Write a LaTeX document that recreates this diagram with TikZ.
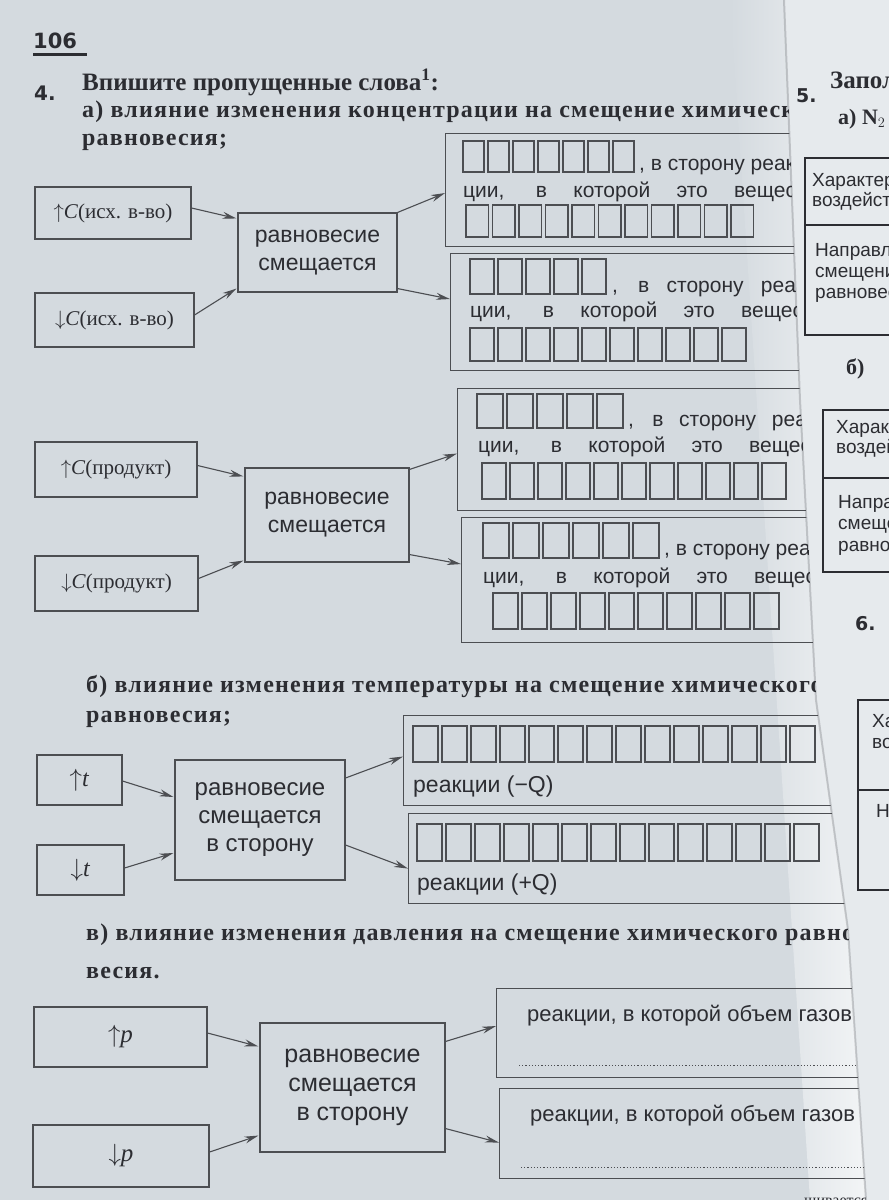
\documentclass[tikz,border=0pt]{standalone}
\usepackage{fontspec}
\setmainfont{Liberation Serif}
\newfontfamily\boxfont{Liberation Sans}
\newfontfamily\numfont{DejaVu Sans}
\usetikzlibrary{arrows.meta, positioning, calc}
\definecolor{paper}{RGB}{212,218,223}
\definecolor{paperlight}{RGB}{230,234,237}
\definecolor{ink}{RGB}{44,45,50}
\definecolor{boxgray}{RGB}{76,78,82}

% row of empty letter cells: x, y, count, pitch, height
\newcommand\cellrow[5]{%
  \foreach \k in {1,...,#3} {
    \draw[cell] ({#1+(\k-1)*#4},#2) rectangle ++({#4-4},#5);
  }
}

\begin{document}
\begin{tikzpicture}[x=1pt, y=-1pt,
  txt/.style={anchor=base west, inner sep=0pt, text=ink},
  head/.style={txt, font=\bfseries\fontsize{25}{28}\selectfont},
  subhead/.style={txt, font=\bfseries\fontsize{24}{28}\selectfont\addfontfeature{LetterSpace=5}},
  inbox/.style={draw=boxgray, line width=1.1pt, inner sep=0pt, text=ink, font=\fontsize{21}{24}\selectfont},
  midbox/.style={draw=boxgray, line width=1.1pt, inner sep=0pt, align=center, text=ink, font=\boxfont\fontsize{23}{28}\selectfont},
  outbox/.style={draw=boxgray, line width=1.1pt, inner sep=0pt, anchor=north west, minimum width=470pt},
  intxt/.style={txt, font=\boxfont\fontsize{21}{24}\selectfont},
  cell/.style={draw=boxgray, line width=1.1pt},
  arr/.style={draw=boxgray, line width=1.1pt, -{Stealth[length=14pt, width=7pt]}},
  tabline/.style={draw=ink, line width=1.6pt},
  tabtxt/.style={txt, font=\boxfont\fontsize{19}{22}\selectfont}]

  % Page
  \fill[paper] (0,0) rectangle (889,1200);
  \useasboundingbox (0,0) rectangle (889,1200);
  \shade[left color=paper, right color=paperlight!50!white] (730,0) -- (784,0) -- (800,400) -- (816,700) -- (848,930) -- (866,1200) -- (810,1200) -- cycle;
  \fill[paperlight] (784,0) -- (889,0) -- (889,1200) -- (866,1200) -- (848,930) -- (816,700) -- (800,400) -- cycle;
  \draw[boxgray, opacity=.25, line width=2pt] (784,0) -- (800,400) -- (816,700) -- (848,930) -- (866,1200);

  \begin{scope}
    \clip (0,0) -- (784,0) -- (800,400) -- (816,700) -- (848,930) -- (866,1200) -- (0,1200) -- cycle;

    % Page number and task
    \node[txt, font=\numfont\bfseries\fontsize{21}{24}\selectfont] (pnum) at (33,48) {106};
    \draw[ink, line width=2.6pt] ([yshift=-6pt]pnum.south west) -- ([yshift=-6pt, xshift=10pt]pnum.south east);
    \node[txt, font=\numfont\bfseries\fontsize{20}{24}\selectfont] (n4) at (34,100) {4.};
    \node[head] (h4) at (82,90) {Впишите пропущенные слова\textsuperscript{1}:};
    \node[subhead] (ha1) at (82,117) {а) влияние изменения концентрации на смещение химического};
    \node[subhead] (ha2) at (82,145) {равновесия;};

    % a) starting substance
    \node[inbox, minimum width=156pt, minimum height=52pt] (cup) at (113,213) {$\uparrow$\textit{C}(исх. в-во)};
    \node[inbox, minimum width=159pt, minimum height=54pt] (cdown) at (114.5,320) {$\downarrow$\textit{C}(исх. в-во)};
    \node[midbox, minimum width=159pt, minimum height=79pt] (mid1) at (317.5,252.5) {равновесие\\смещается};
    \node[outbox, minimum height=113pt] (out1) at (445,133) {};
    \node[outbox, minimum height=117pt] (out2) at (450,253) {};
    \cellrow{463}{141}{7}{25}{31}
    \node[intxt] (o1a) at (639,170) {, в сторону реак-};
    \node[intxt] (o1b) at (463,197) {\makebox[365pt][s]{ции, в которой это вещество}};
    \cellrow{466}{205}{11}{26.5}{32}
    \cellrow{470}{259}{5}{28}{35}
    \node[intxt] (o2a) at (612,292) {\makebox[200pt][s]{, в сторону реак-}};
    \node[intxt] (o2b) at (470,317) {\makebox[365pt][s]{ции, в которой это вещество}};
    \cellrow{470}{328}{10}{28}{33}
    \draw[arr] ([yshift=5pt]cup.east) -- ([yshift=-6pt, xshift=-1pt]mid1.north west);
    \draw[arr] ([yshift=5pt]cdown.east) -- ([yshift=4pt, xshift=-1pt]mid1.south west);
    \draw[arr] (mid1.north east) -- ([yshift=-3pt]out1.west);
    \draw[arr] ([yshift=4pt]mid1.south east) -- ([yshift=13pt]out2.west);

    % a) product
    \node[inbox, minimum width=162pt, minimum height=55pt] (pup) at (116,469.5) {$\uparrow$\textit{C}(продукт)};
    \node[inbox, minimum width=163pt, minimum height=55pt] (pdown) at (116.5,583.5) {$\downarrow$\textit{C}(продукт)};
    \node[midbox, minimum width=164pt, minimum height=94pt] (mid2) at (327,515) {равновесие\\смещается};
    \node[outbox, minimum height=122pt] (out3) at (457,388) {};
    \node[outbox, minimum height=125pt] (out4) at (461,517) {};
    \cellrow{477}{394}{5}{30}{34}
    \node[intxt] (o3a) at (628,426) {\makebox[195pt][s]{, в сторону реак-}};
    \node[intxt] (o3b) at (478,452) {\makebox[365pt][s]{ции, в которой это вещество}};
    \cellrow{482}{463}{11}{28}{36}
    \cellrow{483}{523}{6}{30}{35}
    \node[intxt] (o4a) at (664,555) {, в сторону реак-};
    \node[intxt] (o4b) at (483,583) {\makebox[365pt][s]{ции, в которой это вещество}};
    \cellrow{493}{593}{10}{29}{36}
    \draw[arr] ([yshift=4pt]pup.east) -- ([yshift=-9pt, xshift=-1pt]mid2.north west);
    \draw[arr] ([yshift=5pt]pdown.east) -- ([yshift=2pt, xshift=-1pt]mid2.south west);
    \draw[arr] ([yshift=-2pt]mid2.north east) -- ([yshift=-4pt]out3.west);
    \draw[arr] ([yshift=8pt]mid2.south east) -- ([yshift=16pt]out4.west);

    % b) temperature
    \node[subhead] (hb1) at (86,692) {б) влияние изменения температуры на смещение химического};
    \node[subhead] (hb2) at (86,722) {равновесия;};
    \node[inbox, minimum width=85pt, minimum height=50pt, font=\fontsize{24}{26}\selectfont] (tup) at (79.5,780) {$\uparrow$\textit{t}};
    \node[inbox, minimum width=87pt, minimum height=50pt, font=\fontsize{24}{26}\selectfont] (tdown) at (80.5,870) {$\downarrow$\textit{t}};
    \node[midbox, minimum width=170pt, minimum height=120pt, font=\boxfont\fontsize{24}{28}\selectfont] (mid3) at (260,820) {равновесие\\смещается\\в сторону};
    \node[outbox, minimum height=90pt] (out5) at (403,715) {};
    \node[outbox, minimum height=90pt] (out6) at (408,813) {};
    \cellrow{413}{726}{14}{29}{36}
    \node[intxt, font=\boxfont\fontsize{23}{26}\selectfont] (o5) at (413,792) {реакции (\textminus Q)};
    \cellrow{417}{824}{14}{29}{37}
    \node[intxt, font=\boxfont\fontsize{23}{26}\selectfont] (o6) at (417,890) {реакции (+Q)};
    \draw[arr] ([yshift=-1pt]tup.east) -- ([yshift=23pt, xshift=-1pt]mid3.west);
    \draw[arr] ([yshift=2pt]tdown.east) -- ([yshift=-33pt, xshift=-1pt]mid3.west);
    \draw[arr] ([yshift=42pt]mid3.east) -- ([yshift=4pt]out5.west);
    \draw[arr] ([yshift=-25pt]mid3.east) -- ([yshift=-10pt]out6.west);

    % c) pressure
    \node[subhead] (hc1) at (86,940) {в) влияние изменения давления на смещение химического равно-};
    \node[subhead] (hc2) at (86,978) {весия.};
    \node[inbox, minimum width=173pt, minimum height=60pt, font=\fontsize{25}{28}\selectfont] (pgup) at (120.5,1037) {$\uparrow$\textit{p}};
    \node[inbox, minimum width=176pt, minimum height=62pt, font=\fontsize{25}{28}\selectfont] (pgdown) at (121,1156) {$\downarrow$\textit{p}};
    \node[midbox, minimum width=185pt, minimum height=129pt, font=\boxfont\fontsize{25}{29}\selectfont] (mid4) at (352.5,1087.5) {равновесие\\смещается\\в сторону};
    \node[outbox, minimum height=89pt] (out7) at (496,988) {};
    \node[outbox, minimum height=90pt] (out8) at (499,1088) {};
    \node[intxt, font=\boxfont\fontsize{22}{26}\selectfont] (o7) at (527,1021) {реакции, в которой объем газов};
    \draw[boxgray, line width=1.2pt, dotted] ([xshift=23pt, yshift=13pt]out7.south west) -- ++(400,0);
    \node[intxt, font=\boxfont\fontsize{22}{26}\selectfont] (o8) at (530,1121) {реакции, в которой объем газов};
    \draw[boxgray, line width=1.2pt, dotted] ([xshift=22pt, yshift=12pt]out8.south west) -- ++(400,0);
    \draw[arr] ([yshift=4pt]pgup.east) -- ([yshift=-24pt, xshift=-1pt]mid4.north west);
    \draw[arr] ([yshift=4pt]pgdown.east) -- ([yshift=17pt, xshift=-1pt]mid4.south west);
    \draw[arr] ([yshift=-19pt]mid4.north east) -- ([yshift=7pt]out7.west);
    \draw[arr] ([yshift=24pt]mid4.south east) -- ([yshift=-9pt]out8.west);
    \node[txt, font=\fontsize{16}{18}\selectfont] (foot) at (804,1205) {шивается.};
  \end{scope}

  \begin{scope}
    \clip (784,0) -- (889,0) -- (889,1200) -- (866,1200) -- (848,930) -- (816,700) -- (800,400) -- cycle;

    % Task 5
    \node[txt, font=\numfont\bfseries\fontsize{19}{22}\selectfont] (n5) at (796,102) {5.};
    \node[head] (h5) at (830,88) {Заполните};
    \node[txt, font=\bfseries\fontsize{22}{26}\selectfont] (h5a) at (838,124) {а) N$_2$};
    \draw[tabline] (805,158) rectangle (990,335);
    \draw[tabline] (805,225) -- (990,225);
    \node[tabtxt] (r1a) at (812,186) {Характеристика};
    \node[tabtxt] (r1b) at (812,206) {воздействия};
    \node[tabtxt] (r1c) at (815,256) {Направление};
    \node[tabtxt] (r1d) at (815,277) {смещения};
    \node[tabtxt] (r1e) at (815,298) {равновесия};
    \node[txt, font=\bfseries\fontsize{22}{26}\selectfont] (h5b) at (846,374) {б)};
    \draw[tabline] (823,410) rectangle (990,572);
    \draw[tabline] (823,478) -- (990,478);
    \node[tabtxt] (r2a) at (836,433) {Характеристика};
    \node[tabtxt] (r2b) at (836,453) {воздействия};
    \node[tabtxt] (r2c) at (838,508) {Направление};
    \node[tabtxt] (r2d) at (838,529) {смещения};
    \node[tabtxt] (r2e) at (838,551) {равновесия};

    % Task 6
    \node[txt, font=\numfont\bfseries\fontsize{19}{22}\selectfont] (n6) at (855,630) {6.};
    \draw[tabline] (858,700) rectangle (990,890);
    \draw[tabline] (858,790) -- (990,790);
    \node[tabtxt] (r3a) at (872,727) {Характеристика};
    \node[tabtxt] (r3b) at (872,748) {воздействия};
    \node[tabtxt] (r3c) at (876,817) {Направление};
  \end{scope}
\end{tikzpicture}
\end{document}
